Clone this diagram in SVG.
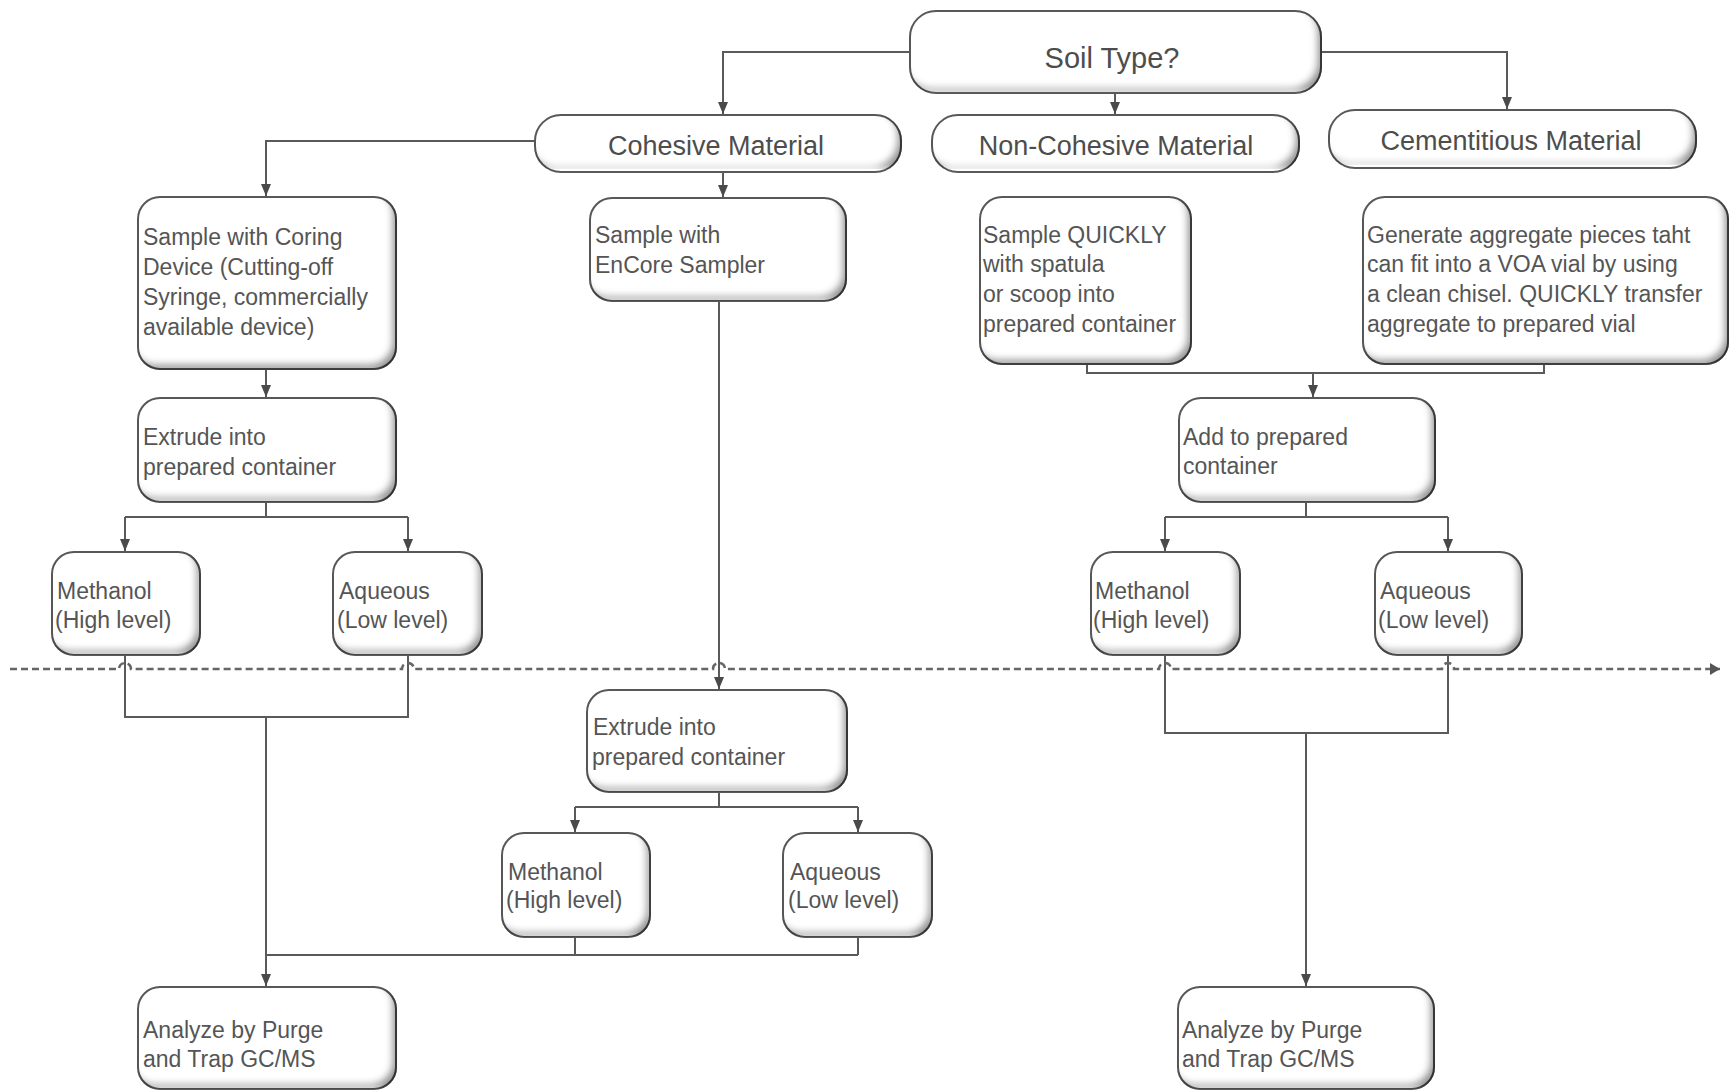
<svg xmlns="http://www.w3.org/2000/svg" width="1730" height="1091" viewBox="0 0 1730 1091">
<style>
.box{fill:#ffffff;stroke:#5a5a5a;stroke-width:2;filter:url(#bev);}
.t{font-family:"Liberation Sans",Arial,sans-serif;font-size:23px;fill:#555555;}
.h{font-family:"Liberation Sans",Arial,sans-serif;font-size:27px;fill:#4d4d4d;text-anchor:middle;}
.c{fill:none;stroke:#5a5a5a;stroke-width:2;}
.a{marker-end:url(#arr);}
.dash{fill:none;stroke:#666;stroke-width:2.5;stroke-dasharray:7 4;marker-end:url(#arr2);}
</style>
<defs>
<filter id="bev" x="-5%" y="-5%" width="110%" height="110%">
<feFlood flood-color="#000" flood-opacity="0.7" result="f"/>
<feComposite in="f" in2="SourceAlpha" operator="out" result="outside"/>
<feGaussianBlur in="outside" stdDeviation="3.5" result="b"/>
<feOffset in="b" dx="-5" dy="-6" result="o"/>
<feComposite in="o" in2="SourceAlpha" operator="in" result="inner"/>
<feMerge><feMergeNode in="SourceGraphic"/><feMergeNode in="inner"/></feMerge>
</filter>
<marker id="arr" markerUnits="userSpaceOnUse" markerWidth="12" markerHeight="12" refX="12" refY="5" orient="auto">
<path d="M0,0 L12,5 L0,10 z" fill="#4a4a4a"/>
</marker>
<marker id="arr2" markerUnits="userSpaceOnUse" markerWidth="12" markerHeight="14" refX="10" refY="6" orient="auto">
<path d="M0,0 L10,6 L0,12 z" fill="#555"/>
</marker>
</defs>
<rect width="1730" height="1091" fill="#ffffff"/>

<g id="connectors">
<path class="c a" d="M910,52 H723 V114"/>
<path class="c a" d="M1115,93 V114"/>
<path class="c a" d="M1321,52 H1507 V109"/>
<path class="c a" d="M535,141 H266 V196"/>
<path class="c a" d="M723,172 V197"/>
<path class="c a" d="M266,369 V397"/>
<path class="c" d="M266,502 V517 M125,517 H408"/>
<path class="c a" d="M125,517 V551"/>
<path class="c a" d="M408,517 V551"/>
<path class="c" d="M125,655 V717 H408 V655"/>
<path class="c a" d="M266,717 V986"/>
<path class="c a" d="M719,301 V689"/>
<path class="c" d="M719,792 V807 M575,807 H858"/>
<path class="c a" d="M575,807 V832"/>
<path class="c a" d="M858,807 V832"/>
<path class="c" d="M575,937 V955 M858,937 V955 M266,955 H858"/>
<path class="c" d="M1087,364 V373 H1544 V364"/>
<path class="c a" d="M1313,373 V397"/>
<path class="c" d="M1306,502 V517 M1165,517 H1448"/>
<path class="c a" d="M1165,517 V551"/>
<path class="c a" d="M1448,517 V551"/>
<path class="c" d="M1165,655 V733 H1448 V655"/>
<path class="c a" d="M1306,733 V986"/>
<path class="dash" d="M10,669 H119 a6,6 0 0 1 12,0 H402 a6,6 0 0 1 12,0 H713 a6,6 0 0 1 12,0 H1159 a6,6 0 0 1 12,0 H1442 a6,6 0 0 1 12,0 H1720"/>
</g>

<g id="soil"><rect class="box" x="910" y="11" width="411" height="82" rx="26"/><text class="h" x="1112" y="68" style="font-size:29px">Soil Type?</text></g>
<g id="cohesive"><rect class="box" x="535" y="115" width="366" height="57" rx="26"/><text class="h" x="716" y="155">Cohesive Material</text></g>
<g id="noncohesive"><rect class="box" x="932" y="115" width="367" height="57" rx="26"/><text class="h" x="1116" y="155">Non-Cohesive Material</text></g>
<g id="cementitious"><rect class="box" x="1329" y="110" width="367" height="58" rx="26"/><text class="h" x="1511" y="150">Cementitious Material</text></g>

<g id="coring"><rect class="box" x="138" y="197" width="258" height="172" rx="22"/>
<text class="t" x="143" y="245">Sample with Coring</text><text class="t" x="143" y="275">Device (Cutting-off</text><text class="t" x="143" y="305">Syringe, commercially</text><text class="t" x="143" y="335">available device)</text></g>
<g id="encore"><rect class="box" x="590" y="198" width="256" height="103" rx="22"/>
<text class="t" x="595" y="243">Sample with</text><text class="t" x="595" y="273">EnCore Sampler</text></g>
<g id="quickly"><rect class="box" x="980" y="197" width="211" height="167" rx="22"/>
<text class="t" x="983" y="243">Sample QUICKLY</text><text class="t" x="983" y="272">with spatula</text><text class="t" x="983" y="302">or scoop into</text><text class="t" x="983" y="332">prepared container</text></g>
<g id="generate"><rect class="box" x="1363" y="197" width="365" height="167" rx="22"/>
<text class="t" x="1367" y="243">Generate aggregate pieces taht</text><text class="t" x="1367" y="272">can fit into a VOA vial by using</text><text class="t" x="1367" y="302">a clean chisel. QUICKLY transfer</text><text class="t" x="1367" y="332">aggregate to prepared vial</text></g>

<g id="extrude1"><rect class="box" x="138" y="398" width="258" height="104" rx="22"/>
<text class="t" x="143" y="445">Extrude into</text><text class="t" x="143" y="475">prepared container</text></g>
<g id="add"><rect class="box" x="1179" y="398" width="256" height="104" rx="22"/>
<text class="t" x="1183" y="445">Add to prepared</text><text class="t" x="1183" y="474">container</text></g>

<g id="methanol1"><rect class="box" x="52" y="552" width="148" height="103" rx="22"/>
<text class="t" x="57" y="599">Methanol</text><text class="t" x="55" y="628">(High level)</text></g>
<g id="aqueous1"><rect class="box" x="333" y="552" width="149" height="103" rx="22"/>
<text class="t" x="339" y="599">Aqueous</text><text class="t" x="337" y="628">(Low level)</text></g>
<g id="methanol3"><rect class="box" x="1091" y="552" width="149" height="103" rx="22"/>
<text class="t" x="1095" y="599">Methanol</text><text class="t" x="1093" y="628">(High level)</text></g>
<g id="aqueous3"><rect class="box" x="1375" y="552" width="147" height="103" rx="22"/>
<text class="t" x="1380" y="599">Aqueous</text><text class="t" x="1378" y="628">(Low level)</text></g>

<g id="extrude2"><rect class="box" x="587" y="690" width="260" height="102" rx="22"/>
<text class="t" x="593" y="735">Extrude into</text><text class="t" x="592" y="765">prepared container</text></g>
<g id="methanol2"><rect class="box" x="502" y="833" width="148" height="104" rx="22"/>
<text class="t" x="508" y="880">Methanol</text><text class="t" x="506" y="908">(High level)</text></g>
<g id="aqueous2"><rect class="box" x="783" y="833" width="149" height="104" rx="22"/>
<text class="t" x="790" y="880">Aqueous</text><text class="t" x="788" y="908">(Low level)</text></g>

<g id="analyze1"><rect class="box" x="138" y="987" width="258" height="102" rx="22"/>
<text class="t" x="143" y="1038">Analyze by Purge</text><text class="t" x="143" y="1067">and Trap GC/MS</text></g>
<g id="analyze2"><rect class="box" x="1178" y="987" width="256" height="102" rx="22"/>
<text class="t" x="1182" y="1038">Analyze by Purge</text><text class="t" x="1182" y="1067">and Trap GC/MS</text></g>
</svg>
